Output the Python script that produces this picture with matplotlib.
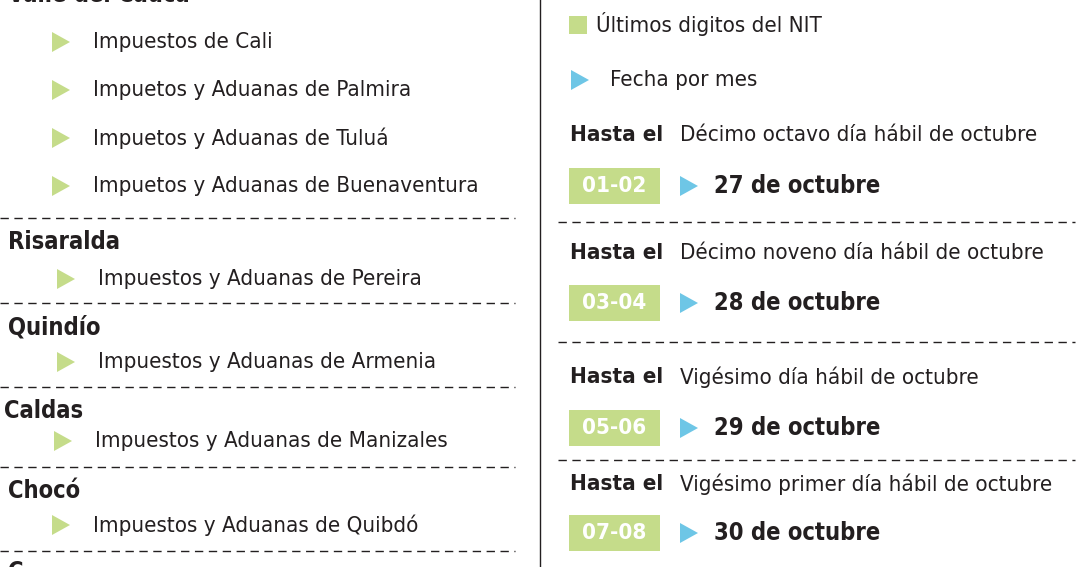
import matplotlib
matplotlib.use("Agg")
import matplotlib.pyplot as plt
from matplotlib.patches import Rectangle, Polygon

plt.rcParams['font.family'] = ['DejaVu Sans']
plt.rcParams['font.stretch'] = 'condensed'

GREEN = '#c5dc8a'
BLUE = '#6ec6e6'
INK = '#231f20'

# left column: departamentos and their offices
deptos = ['Valle del Cauca', 'Risaralda', 'Quindío', 'Caldas', 'Chocó', 'C']
depto_y = [-5, 242, 327, 411, 491, 572]
oficinas = ['Impuestos de Cali', 'Impuetos y Aduanas de Palmira',
            'Impuetos y Aduanas de Tuluá', 'Impuetos y Aduanas de Buenaventura',
            'Impuestos y Aduanas de Pereira', 'Impuestos y Aduanas de Armenia',
            'Impuestos y Aduanas de Manizales', 'Impuestos y Aduanas de Quibdó']
oficina_y = [42, 90, 138, 186, 279, 362, 441, 525]
oficina_x = [60, 60, 60, 60, 65, 65, 62, 60]
left_dashes = [218, 303, 387, 467, 551]

# right column: NIT digits and dates
plazos = ['Décimo octavo día hábil de octubre', 'Décimo noveno día hábil de octubre',
          'Vigésimo día hábil de octubre', 'Vigésimo primer día hábil de octubre']
nits = ['01-02', '03-04', '05-06', '07-08']
fechas = ['27 de octubre', '28 de octubre', '29 de octubre', '30 de octubre']
head_y = [135, 253, 377, 484]
box_y = [186, 303, 428, 533]
right_dashes = [222, 342, 460]

fig = plt.figure(figsize=(10.8, 5.67), dpi=100)
ax = fig.add_axes([0, 0, 1, 1])
ax.set_xlim(0, 1080)
ax.set_ylim(567, 0)
ax.axis('off')

def tri(x, y, color, w=18, h=20):
    ax.add_patch(Polygon([[x, y - h / 2], [x, y + h / 2], [x + w, y]], color=color, lw=0))

for name, y in zip(deptos, depto_y):
    ax.text(8 if name != 'Caldas' else 4, y, name, fontsize=17, fontweight='bold',
            color=INK, va='center')
for name, y, x in zip(oficinas, oficina_y, oficina_x):
    tri(x - 8, y, GREEN)
    ax.text(x + 33, y, name, fontsize=16, color=INK, va='center')
for y in left_dashes:
    ax.plot([0, 515], [y, y], ls=(0, (6, 4)), color=INK, lw=1)

ax.plot([540, 540], [0, 567], color=INK, lw=1)

ax.add_patch(Rectangle((569, 16), 18, 18, color=GREEN, lw=0))
ax.text(596, 24, 'Últimos digitos del NIT', fontsize=16, color=INK, va='center')
tri(571, 80, BLUE)
ax.text(610, 80, 'Fecha por mes', fontsize=16, color=INK, va='center')

for p, n, f, hy, by in zip(plazos, nits, fechas, head_y, box_y):
    ax.text(570, hy, 'Hasta el', fontsize=16, fontweight='bold', color=INK, va='center')
    ax.text(680, hy, p, fontsize=16, color=INK, va='center')
    ax.add_patch(Rectangle((569, by - 18), 91, 36, color=GREEN, lw=0))
    ax.text(614, by, n, fontsize=16, fontweight='bold', color='white', va='center', ha='center')
    tri(680, by, BLUE)
    ax.text(714, by, f, fontsize=17, fontweight='bold', color=INK, va='center')
for y in right_dashes:
    ax.plot([558, 1075], [y, y], ls=(0, (6, 4)), color=INK, lw=1)

fig.savefig('out.png', dpi=100)
